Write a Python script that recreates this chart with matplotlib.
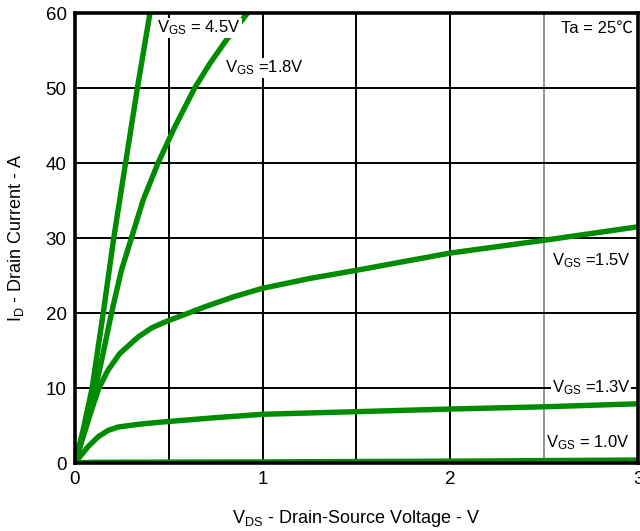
import matplotlib
matplotlib.use("Agg")
import matplotlib.pyplot as plt

plt.rcParams['font.family'] = ['Liberation Sans', 'Noto Sans CJK SC', 'DejaVu Sans']
plt.rcParams['mathtext.fontset'] = 'custom'
plt.rcParams['mathtext.rm'] = 'Liberation Sans'
plt.rcParams['mathtext.it'] = 'Liberation Sans'

# V_DS (V) and I_D (A)
vds_45 = [0, 0.044, 0.092, 0.151, 0.207, 0.27, 0.333, 0.40]
id_45 = [0, 4.4, 10, 20, 30, 40, 50, 60]

vds_18 = [0, 0.035, 0.067, 0.110, 0.151, 0.195, 0.248, 0.301, 0.364, 0.443, 0.532, 0.638, 0.72, 0.807, 0.92]
id_18 = [0, 3.0, 5.7, 10, 14.7, 20, 25.7, 30, 35.1, 40, 44.8, 50, 53.3, 56.4, 60]

vds_15 = [0, 0.044, 0.089, 0.128, 0.177, 0.239, 0.337, 0.408, 0.479, 0.585, 0.7, 0.85, 1.0, 1.25, 1.5, 2.0, 2.5, 3.0]
id_15 = [0, 3.5, 7.1, 10, 12.4, 14.6, 16.8, 18.0, 18.8, 19.8, 20.9, 22.2, 23.3, 24.6, 25.7, 28.0, 29.7, 31.5]

vds_13 = [0, 0.035, 0.071, 0.124, 0.177, 0.23, 0.35, 0.479, 0.75, 1.0, 1.5, 2.0, 2.5, 3.0]
id_13 = [0, 1.1, 2.2, 3.5, 4.35, 4.8, 5.2, 5.5, 6.05, 6.5, 6.85, 7.2, 7.5, 7.9]

vds_10 = [0, 0.1, 1.0, 2.0, 3.0]
id_10 = [0, 0.1, 0.15, 0.25, 0.4]

x_ticks = [0, 1, 2, 3]
y_ticks = [0, 10, 20, 30, 40, 50, 60]

green = '#008c00'

fig = plt.figure(figsize=(6.4, 5.31), dpi=100)
ax = fig.add_axes([0.117, 0.128, 0.880, 0.8475])

for v, i in [(vds_45, id_45), (vds_18, id_18), (vds_15, id_15), (vds_13, id_13), (vds_10, id_10)]:
    ax.plot(v, i, color=green, lw=3.9, solid_capstyle='butt', solid_joinstyle='round', zorder=3)

ax.set_xlim(0, 3)
ax.set_ylim(0, 60)
ax.set_xticks(x_ticks)
ax.set_yticks(y_ticks)
ax.set_xticks([0.5, 1.5], minor=True)
ax.tick_params(which='both', length=0, labelsize=13.5, pad=6)
ax.grid(True, which='both', color='black', lw=1.4, zorder=1)
ax.axvline(2.5, color='#808080', lw=1.2, zorder=1)
for s in ax.spines.values():
    s.set_linewidth(2.6)
    s.set_zorder(4)

ax.set_xlabel(r'V$_{\mathrm{DS}}$ - Drain-Source Voltage - V', fontsize=13, labelpad=14)
ax.set_ylabel(r'I$_{\mathrm{D}}$ - Drain Current - A', fontsize=13, labelpad=14)

fs = 12
box = dict(facecolor='white', edgecolor='none', pad=0.5)
ax.text(0.44, 58, r'V$_{\mathrm{GS}}$ = 4.5V', fontsize=fs, va='center', ha='left', zorder=5, bbox=box)
ax.text(0.80, 52.7, r'V$_{\mathrm{GS}}$ =1.8V', fontsize=fs, va='center', ha='left', zorder=5, bbox=box)
ax.text(2.97, 58, 'Ta = 25℃', fontsize=fs, va='center', ha='right', zorder=5, bbox=box)
ax.text(2.54, 27, r'V$_{\mathrm{GS}}$ =1.5V', fontsize=fs, va='center', ha='left', zorder=5, bbox=box)
ax.text(2.54, 10, r'V$_{\mathrm{GS}}$ =1.3V', fontsize=fs, va='center', ha='left', zorder=5, bbox=box)
ax.text(2.51, 2.7, r'V$_{\mathrm{GS}}$ = 1.0V', fontsize=fs, va='center', ha='left', zorder=5, bbox=box)

fig.savefig('out.png', dpi=100)
